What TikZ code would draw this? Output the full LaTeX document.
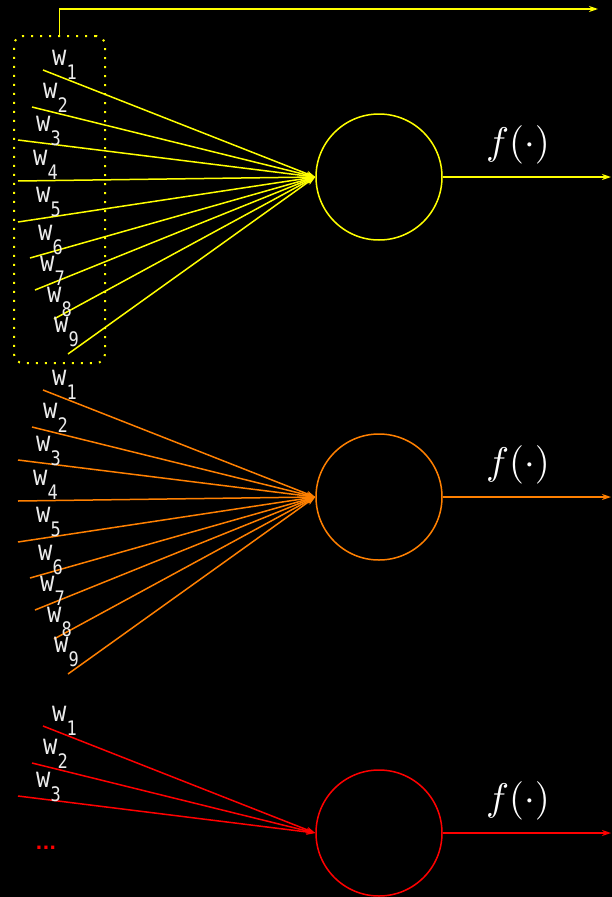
\documentclass[tikz,border=0pt]{standalone}
\usepackage{fontspec}
\usetikzlibrary{arrows.meta}
\newfontfamily\wfont[FakeStretch=0.85]{DejaVu Sans Mono}
\newfontfamily\dotfont{DejaVu Sans}
\definecolor{cyel}{RGB}{255,255,0}
\definecolor{corg}{RGB}{255,128,0}
\definecolor{cred}{RGB}{255,0,0}
\definecolor{labgray}{RGB}{235,235,235}
\newcommand{\wlab}[1]{{\fontsize{28}{28}\selectfont w}\hspace{0pt}\raisebox{-14pt}{\fontsize{20}{20}\selectfont #1}}
\tikzset{
  wlabel/.style={anchor=base west, inner sep=0pt, text=labgray, font=\wfont},
  neuron/.style={circle, line width=1.5pt, minimum size=126pt, inner sep=0pt},
  inarrow/.style={line width=1.5pt, -{Stealth[length=9pt,width=6pt]}},
  outarrow/.style={line width=1.5pt, -{Stealth[length=9pt,width=6pt]}},
  flabel/.style={text=white, inner sep=0pt},
}
\begin{document}
\begin{tikzpicture}[x=1pt,y=-1pt]
\fill[black] (0,0) rectangle (612,897);
\useasboundingbox (0,0) rectangle (612,897);

% groups: colour / vertical offset / number of inputs
\foreach \col/\dy/\n/\g in {cyel/0/9/a, corg/320/9/b, cred/656/3/c}{
  \node[neuron, draw=\col] (n\g) at (379,177+\dy) {};
  \foreach \i/\sx/\sy/\lx/\ly in {1/43/70/52/65, 2/32/107/43/98, 3/18/140/36/131,
      4/18/181/33/165, 5/18/222/36/202, 6/30/258/38/240, 7/35/290/40/271,
      8/54/319/47/302, 9/68/354/54/332}{
    \ifnum\i>\n\else
      \coordinate (s\g\i) at (\sx,\sy+\dy);
      \draw[inarrow, draw=\col] (s\g\i) -- (n\g.west);
      \node[wlabel] (l\g\i) at (\lx,\ly+\dy) {\wlab{\i}};
    \fi
  }
  \coordinate (o\g) at (611,177+\dy);
  \draw[outarrow, draw=\col] (n\g.east) -- (o\g);
}
\node[flabel] (fa) at (518,145) {\scalebox{3.85}{$f(\cdot)$}};
\node[flabel] (fb) at (518,465) {\scalebox{3.85}{$f(\cdot)$}};
\node[flabel] (fc) at (518,801) {\scalebox{3.85}{$f(\cdot)$}};

\node[text=cred, font=\dotfont\bfseries\fontsize{18}{18}\selectfont, anchor=base, inner sep=0pt] (dots) at (46,849) {...};

% dotted box around first weight set and its output line
\node[draw=cyel, line width=2pt, dash pattern=on 2pt off 7pt, rounded corners=9pt,
      minimum width=91pt, minimum height=327pt, inner sep=0pt] (box) at (59.5,199.5) {};
\coordinate (topend) at (598,9);
\draw[outarrow, draw=cyel] (box.north) |- (topend);
\end{tikzpicture}
\end{document}
